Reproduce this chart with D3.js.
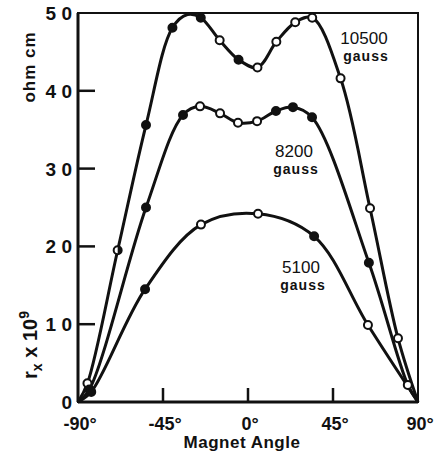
<!DOCTYPE html>
<html>
<head>
<meta charset="utf-8">
<script src="https://cdn.jsdelivr.net/npm/d3@7"></script>
<style>
  body { margin: 0; background: #fff; }
  text { font-family: "Liberation Sans", Arial, sans-serif; fill: #111; }
</style>
</head>
<body>
<div id="chart"></div>
<script>
// data (angle in degrees, r_x in 1e-9 ohm cm)
// mark: "o" open circle, "f" filled circle, "h" half filled, "" curve only
var angles10500 = [-90, -85, -69, -54, -40, -32, -25, -15, -5, 5, 15, 25, 34, 49, 64.6, 79.4, 90];
var values10500 = [0, 2.4, 19.5, 35.6, 48.1, 49.8, 49.4, 46.5, 44.0, 43.0, 46.3, 48.8, 49.4, 41.6, 24.9, 8.2, 0];
var marks10500  = ["", "o", "h", "f", "f", "", "f", "o", "f", "o", "o", "o", "o", "o", "o", "o", ""];

var angles8200 = [-90, -84, -54, -34.4, -25.4, -14.8, -5.3, 4.8, 14.8, 23.8, 33.9, 64, 84.6, 90];
var values8200 = [0, 1.6, 25.0, 36.9, 38.0, 37.1, 35.9, 36.1, 37.4, 37.9, 36.6, 17.9, 2.2, 0];
var marks8200  = ["", "f", "f", "f", "o", "o", "o", "o", "f", "f", "f", "f", "o", ""];

var angles5100 = [-90, -83, -54.5, -24.9, 5.3, 35, 63.5, 90];
var values5100 = [0, 1.3, 14.5, 22.8, 24.2, 21.3, 9.9, 0];
var marks5100  = ["", "f", "f", "o", "o", "f", "o", ""];

var xTicks = [-90, -45, 0, 45, 90];
var xTickLabels = ["-90°", "-45°", "0°", "45°", "90°"];
var yTicks = [0, 10, 20, 30, 40, 50];
var yTickLabels = ["0", "1 0", "2 0", "3 0", "4 0", "5 0"];

var seriesNames = [["10500", "gauss"], ["8200", "gauss"], ["5100", "gauss"]];

var width = 440, height = 452;
var svg = d3.select("#chart").append("svg")
    .attr("width", width).attr("height", height);

var x = d3.scaleLinear().domain([-90, 90]).range([78, 418]);
var y = d3.scaleLinear().domain([0, 50]).range([402, 13]);

// frame
svg.append("rect")
    .attr("x", x(-90)).attr("y", y(50))
    .attr("width", x(90) - x(-90)).attr("height", y(0) - y(50))
    .attr("fill", "none").attr("stroke", "#111").attr("stroke-width", 2);
svg.append("line").attr("x1", x(-90)).attr("x2", x(-90)).attr("y1", y(50)).attr("y2", y(0))
    .attr("stroke", "#111").attr("stroke-width", 3);
svg.append("line").attr("x1", x(-90)).attr("x2", x(90)).attr("y1", y(0)).attr("y2", y(0))
    .attr("stroke", "#111").attr("stroke-width", 3);

// inward ticks
svg.selectAll(".yt").data(yTicks.slice(1, 5)).enter().append("line")
    .attr("x1", x(-90)).attr("x2", x(-90) + 17)
    .attr("y1", function(d){ return y(d) }).attr("y2", function(d){ return y(d) })
    .attr("stroke", "#111").attr("stroke-width", 2.5);
svg.selectAll(".xt").data(xTicks.slice(1, 4)).enter().append("line")
    .attr("x1", function(d){ return x(d) }).attr("x2", function(d){ return x(d) })
    .attr("y1", y(0)).attr("y2", y(0) - 14)
    .attr("stroke", "#111").attr("stroke-width", 2.5);

// tick labels
svg.selectAll(".yl").data(yTicks).enter().append("text")
    .attr("x", 72)
    .attr("y", function(d){ return y(d) + 7 })
    .attr("text-anchor", "end")
    .style("font-size", "19px").style("font-weight", "bold")
    .text(function(d, i){ return yTickLabels[i] });

svg.selectAll(".xl").data(xTicks).enter().append("text")
    .attr("x", function(d){ return x(d) + 2 })
    .attr("y", 430)
    .attr("text-anchor", "middle")
    .style("font-size", "18px").style("font-weight", "bold")
    .text(function(d, i){ return xTickLabels[i] });

svg.append("text")
    .attr("x", 242).attr("y", 448)
    .attr("text-anchor", "middle")
    .style("font-size", "17px").style("font-weight", "bold")
    .style("letter-spacing", "0.5px")
    .text("Magnet Angle");

// y axis titles (rotated)
svg.append("text")
    .attr("transform", "translate(35,67) rotate(-90)")
    .attr("text-anchor", "middle")
    .style("font-size", "17px").style("font-weight", "bold")
    .style("letter-spacing", "1px")
    .text("ohm cm");

var yt = svg.append("text")
    .attr("transform", "translate(37,345) rotate(-90)")
    .attr("text-anchor", "middle")
    .style("font-size", "20px").style("font-weight", "bold");
yt.append("tspan").text("r");
yt.append("tspan").attr("dy", 5).style("font-size", "14px").text("x");
yt.append("tspan").attr("dy", -5).text(" x 10");
yt.append("tspan").attr("dy", -8).style("font-size", "14px").text("9");

// curves
var line = d3.line()
    .x(function(d){ return x(d.a) })
    .y(function(d){ return y(d.v) })
    .curve(d3.curveCatmullRom.alpha(0.5));

function build(angles, values, marks) {
  return angles.map(function(a, i){ return { a: a, v: values[i], m: marks[i] } });
}
var series = [
  build(angles10500, values10500, marks10500),
  build(angles8200, values8200, marks8200),
  build(angles5100, values5100, marks5100)
];

svg.selectAll(".curve").data(series).enter().append("path")
    .attr("d", line)
    .attr("fill", "none").attr("stroke", "#111").attr("stroke-width", 3);

series.forEach(function(s) {
  var pts = s.filter(function(d){ return d.m !== "" });
  var g = svg.append("g");
  g.selectAll("circle").data(pts).enter().append("circle")
      .attr("cx", function(d){ return x(d.a) })
      .attr("cy", function(d){ return y(d.v) })
      .attr("r", 4)
      .attr("fill", function(d){ return d.m === "f" ? "#111" : "#fff" })
      .attr("stroke", "#111").attr("stroke-width", 2);
  g.selectAll("path").data(pts.filter(function(d){ return d.m === "h" })).enter().append("path")
      .attr("transform", function(d){ return "translate(" + x(d.a) + "," + y(d.v) + ")" })
      .attr("d", "M0,-4 A4,4 0 0,1 0,4 Z")
      .attr("fill", "#111");
});

// series labels
var labelPos = [[364, 44], [294, 157], [301, 273]];
seriesNames.forEach(function(n, i) {
  svg.append("text")
      .attr("x", labelPos[i][0]).attr("y", labelPos[i][1])
      .attr("text-anchor", "middle")
      .style("font-size", "17px")
      .text(n[0]);
  svg.append("text")
      .attr("x", labelPos[i][0] + 2).attr("y", labelPos[i][1] + 17)
      .attr("text-anchor", "middle")
      .style("font-size", "14px").style("font-weight", "bold")
      .style("letter-spacing", "1px")
      .text(n[1]);
});
</script>
</body>
</html>
